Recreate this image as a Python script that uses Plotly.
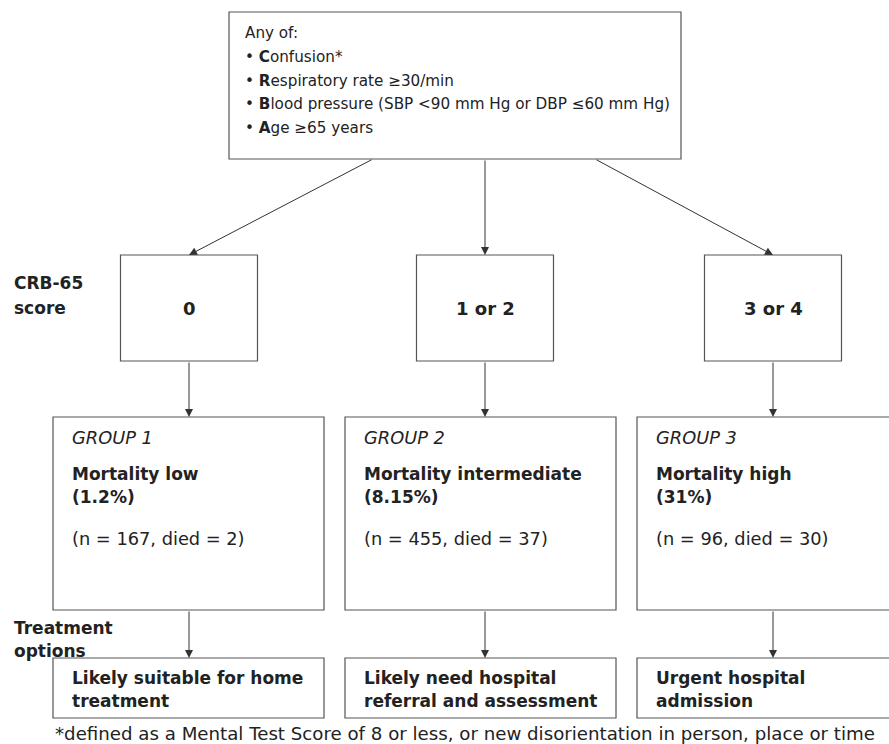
import plotly.graph_objects as go

# ---- data ----
criteria_first = ["C", "R", "B", "A"]
criteria_rest = ["onfusion*", "espiratory rate \u226530/min",
                 "lood pressure (SBP <90 mm Hg or DBP \u226460 mm Hg)", "ge \u226565 years"]
scores = ["0", "1 or 2", "3 or 4"]
groups = ["GROUP 1", "GROUP 2", "GROUP 3"]
mortality_label = ["Mortality low", "Mortality intermediate", "Mortality high"]
mortality_pct = ["1.2%", "8.15%", "31%"]
n_patients = [167, 455, 96]
died = [2, 37, 30]
treatments = [["Likely suitable for home", "treatment"],
              ["Likely need hospital", "referral and assessment"],
              ["Urgent hospital", "admission"]]
footnote = "*defined as a Mental Test Score of 8 or less, or new disorientation in person, place or time"

# ---- layout geometry ----
W, H = 889, 744
FONT = "DejaVu Sans"
TXT = "#222222"
EDGE = "#555555"
TOP = 15.2
REG = 17.8
BOLD = 17

top_box = (229, 12, 681, 159)
score_cx = [189, 485, 773]
score_box_w = 137
score_y = (255, 361)
group_x = [(53, 324), (345, 616), (637, 905)]
group_y = (417, 610)
treat_y = (658, 718)

fig = go.Figure()
shapes = []
ann = []

def rect(x0, y0, x1, y1):
    shapes.append(dict(type="rect", xref="x", yref="y", x0=x0, y0=y0, x1=x1, y1=y1,
                       line=dict(color=EDGE, width=1.2), fillcolor="rgba(0,0,0,0)"))

def text(x, y, s, size=REG, anchor="left"):
    ann.append(dict(x=x, y=y, xref="x", yref="y", text=s, showarrow=False,
                    xanchor=anchor, yanchor="middle",
                    font=dict(family=FONT, size=size, color=TXT)))

def arrow(x0, y0, x1, y1):
    ann.append(dict(x=x1, y=y1, ax=x0, ay=y0, xref="x", yref="y", axref="x", ayref="y",
                    text="", showarrow=True, arrowhead=2, arrowsize=1.6, arrowwidth=1,
                    arrowcolor="#333333", standoff=0))

# top box
rect(*top_box)
text(243, 33, "Any of:", size=TOP)
for i, (f, r) in enumerate(zip(criteria_first, criteria_rest)):
    text(243, 57 + i * 23.7, "\u2022 <b>" + f + "</b>" + r, size=TOP)

# arrows from top box to score boxes
arrow(373, 159, score_cx[0], score_y[0])
arrow(485, 159, score_cx[1], score_y[0])
arrow(595, 159, score_cx[2], score_y[0])

# row labels
text(12, 283, "<b>CRB-65</b>", size=BOLD)
text(12, 308, "<b>score</b>", size=BOLD)
text(12, 628, "<b>Treatment</b>", size=BOLD)
text(12, 651, "<b>options</b>", size=BOLD)

for i in range(3):
    cx = score_cx[i]
    rect(cx - score_box_w / 2, score_y[0], cx + score_box_w / 2, score_y[1])
    text(cx, (score_y[0] + score_y[1]) / 2, "<b>" + scores[i] + "</b>", size=18, anchor="center")
    arrow(cx, score_y[1], cx, group_y[0])

    gx0, gx1 = group_x[i]
    rect(gx0, group_y[0], gx1, group_y[1])
    tx = gx0 + 17
    text(tx, 437, "<i>" + groups[i] + "</i>")
    text(tx, 474, "<b>" + mortality_label[i] + "</b>", size=BOLD)
    text(tx, 497, "<b>(" + mortality_pct[i] + ")</b>", size=BOLD)
    text(tx, 538, "(n = %d, died = %d)" % (n_patients[i], died[i]))

    arrow(cx, group_y[1], cx, treat_y[0])
    rect(gx0, treat_y[0], gx1, treat_y[1])
    text(tx, 678, "<b>" + treatments[i][0] + "</b>", size=BOLD)
    text(tx, 701, "<b>" + treatments[i][1] + "</b>", size=BOLD)

text(53, 733, footnote, size=18.2)

fig.update_layout(
    width=W, height=H,
    margin=dict(l=0, r=0, t=0, b=0),
    paper_bgcolor="white", plot_bgcolor="white",
    xaxis=dict(range=[0, W], visible=False, fixedrange=True),
    yaxis=dict(range=[H, 0], visible=False, fixedrange=True),
    shapes=shapes, annotations=ann, showlegend=False,
)
fig.write_html("out.html", config={"displayModeBar": False},
               post_script="document.body.style.margin='0';document.body.style.overflow='hidden';")
